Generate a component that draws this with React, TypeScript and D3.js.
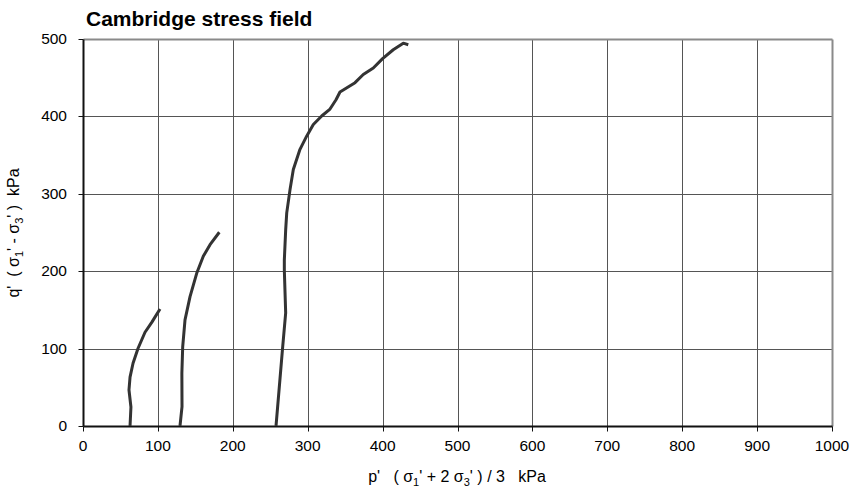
import React from 'react';
import * as d3 from 'd3';

const xTicks = [0, 100, 200, 300, 400, 500, 600, 700, 800, 900, 1000];
const yTicks = [0, 100, 200, 300, 400, 500];

const curve1P = [62.8, 64, 61.4, 62.8, 66.8, 73.4, 82.8, 92, 102.8];
const curve1Q = [0, 24.5, 46.5, 63, 81, 100, 121, 134, 151];

const curve2P = [129.5, 132.2, 132, 133.1, 136.2, 142.9, 151.8, 160.6, 169.6, 182];
const curve2Q = [0, 25, 68, 102, 137, 167, 197, 219, 234, 250];

const curve3P = [257.7, 266.6, 270.6, 268.8, 268.8, 270.6, 272, 276.4, 280.8, 289.7, 298.6, 307.5, 318.7, 329.8, 337.8, 343.1, 363.2, 374.2, 387.6, 400, 414.2, 427.6, 434.3];
const curve3Q = [0, 102, 146, 201, 214, 253, 275, 305, 331, 357, 374, 389, 400, 409, 421, 431, 443, 453.5, 462, 474, 485.5, 494, 492];

const FONT = '"Liberation Sans", Arial, sans-serif';

export default function App() {
  const W = 853, H = 488;
  const x = d3.scaleLinear().domain([0, 1000]).range([83, 832]);
  const y = d3.scaleLinear().domain([0, 500]).range([426, 38.5]);
  const line = d3.line<[number, number]>().x(d => x(d[0])).y(d => y(d[1]));
  const series = [
    d3.zip(curve1P, curve1Q) as [number, number][],
    d3.zip(curve2P, curve2Q) as [number, number][],
    d3.zip(curve3P, curve3Q) as [number, number][],
  ];
  const px = (v: number) => Math.round(x(v)) + 0.5;
  const py = (v: number) => Math.round(y(v)) + 0.5;
  const x0 = px(0), x1 = px(1000), yb = py(0), yt = py(500);

  return (
    <svg width={W} height={H} style={{ position: 'absolute', left: 0, top: 0, background: '#fff' }} fontFamily={FONT}>
      {xTicks.filter(t => t > 0 && t < 1000).map(t => (
        <line key={'gx' + t} x1={px(t)} x2={px(t)} y1={yt} y2={yb} stroke="#555" strokeWidth={1} />
      ))}
      {yTicks.filter(t => t > 0 && t < 500).map(t => (
        <line key={'gy' + t} x1={x0} x2={x1} y1={py(t)} y2={py(t)} stroke="#555" strokeWidth={1} />
      ))}
      <line x1={x0} x2={x1} y1={yt} y2={yt} stroke="#8a8a8a" strokeWidth={2} />
      <line x1={x1} x2={x1} y1={yt} y2={yb} stroke="#8a8a8a" strokeWidth={2} />
      <line x1={x0} x2={x0} y1={yt} y2={yb} stroke="#111" strokeWidth={2} />
      <line x1={x0} x2={x1} y1={yb} y2={yb} stroke="#111" strokeWidth={2} />
      {yTicks.map(t => (
        <g key={'yt' + t}>
          <line x1={x0 - 5} x2={x0} y1={py(t)} y2={py(t)} stroke="#111" strokeWidth={1} />
          <text x={67} y={y(t)} dy="0.35em" textAnchor="end" fontSize={15.5} fill="#000">{t}</text>
        </g>
      ))}
      {xTicks.map(t => (
        <g key={'xt' + t}>
          <line x1={px(t)} x2={px(t)} y1={yb} y2={yb + 5} stroke="#111" strokeWidth={1} />
          <text x={x(t)} y={451} textAnchor="middle" fontSize={15.5} fill="#000">{t}</text>
        </g>
      ))}
      {series.map((s, i) => (
        <path key={'c' + i} d={line(s) || ''} fill="none" stroke="#333" strokeWidth={3} strokeLinejoin="round" strokeLinecap="butt" />
      ))}
      <text x={86} y={26} fontSize={21} fontWeight="bold" fill="#000">Cambridge stress field</text>
      <text x={457} y={482} textAnchor="middle" fontSize={16} fill="#000" style={{ whiteSpace: 'pre' }}>
        {"p'   ( σ"}<tspan fontSize={11} dy={4}>1</tspan><tspan dy={-4}>{"' + 2 σ"}</tspan><tspan fontSize={11} dy={4}>3</tspan><tspan dy={-4}>{"' ) / 3   kPa"}</tspan>
      </text>
      <text transform={`translate(18.5,${(yt + yb) / 2}) rotate(-90)`} textAnchor="middle" fontSize={16} fill="#000" style={{ whiteSpace: 'pre' }}>
        {"q'  ( σ"}<tspan fontSize={11} dy={4}>1</tspan><tspan dy={-4}>{"' - σ"}</tspan><tspan fontSize={11} dy={4}>3</tspan><tspan dy={-4}>{"' )  kPa"}</tspan>
      </text>
    </svg>
  );
}
